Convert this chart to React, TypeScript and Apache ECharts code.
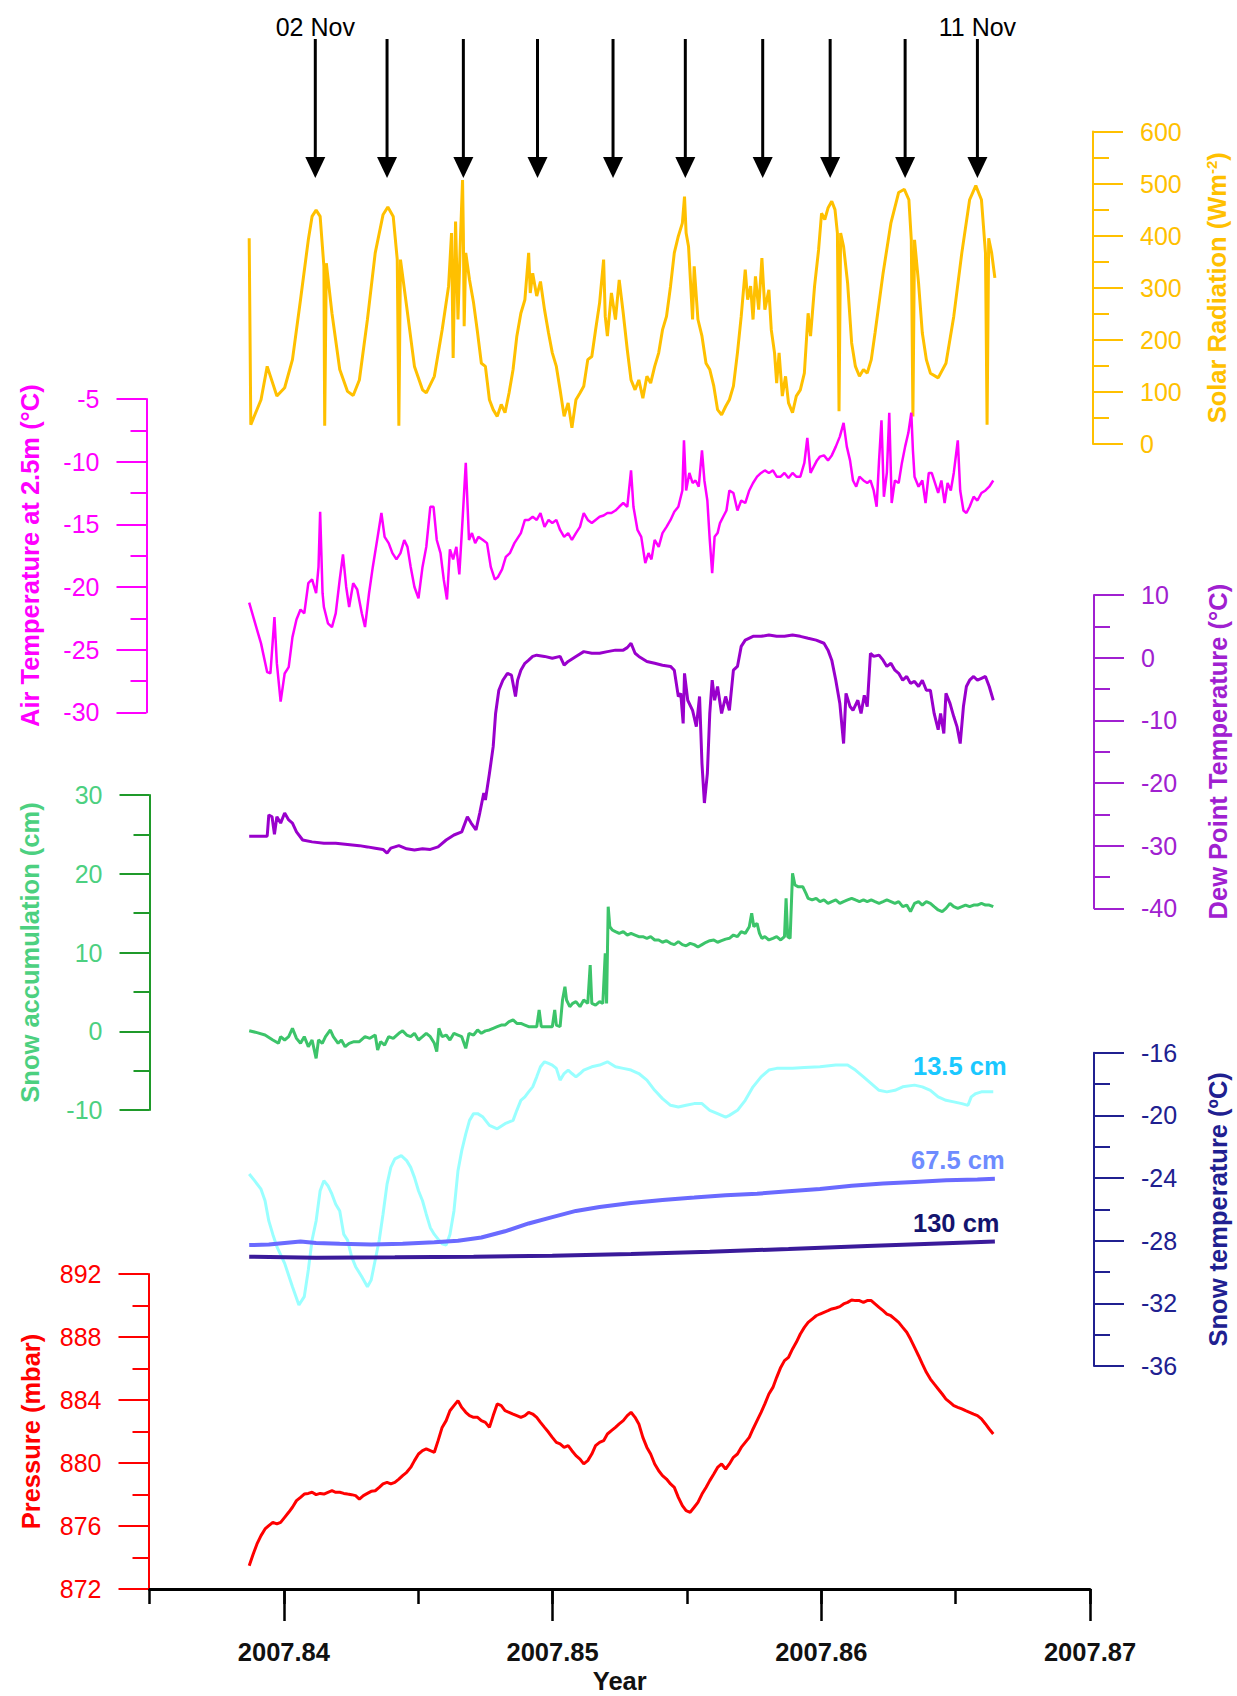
import React, { useEffect, useRef } from "react";
import * as echarts from "echarts";

const FONT = "'Liberation Sans', Arial, Helvetica, sans-serif";

// ---------- axis / tick data ----------
const X_MIN = 2007.835;
const X_MAX = 2007.87;
const xMajorTicks = [2007.84, 2007.85, 2007.86, 2007.87];

// solar-noon arrows
const arrowTimes = [2007.84117, 2007.84384, 2007.84668, 2007.84944, 2007.85225, 2007.85494, 2007.85782, 2007.86033, 2007.86312, 2007.86581];
const arrowLabels = ["02 Nov", "", "", "", "", "", "", "", "", "11 Nov"];

// ---------- series data: [year, value] ----------
const solarRadiation = [
  [2007.83871,395],[2007.83877,37],[2007.83915,85],[2007.83938,149],[2007.83974,92],[2007.84003,108],[2007.84032,162],[2007.84062,277],[2007.84091,392],[2007.84105,437],[2007.8412,449],[2007.84135,437],[2007.84149,341],[2007.84152,35],[2007.84158,347],[2007.84179,251],[2007.84208,143],[2007.84237,101],[2007.84258,93],[2007.84281,123],[2007.84311,239],[2007.8434,367],[2007.84369,440],[2007.84387,455],[2007.84407,437],[2007.84422,354],[2007.84428,35],[2007.84434,354],[2007.84457,264],[2007.84486,149],[2007.84516,104],[2007.8453,98],[2007.8456,130],[2007.84589,219],[2007.84613,303],[2007.84624,405],[2007.8463,165],[2007.84639,427],[2007.84648,239],[2007.84657,392],[2007.84665,507],[2007.84668,405],[2007.84671,226],[2007.84677,367],[2007.84691,315],[2007.84706,271],[2007.84721,213],[2007.84735,155],[2007.8475,149],[2007.84765,85],[2007.84779,66],[2007.84794,53],[2007.84809,76],[2007.84823,60],[2007.84838,98],[2007.84853,143],[2007.84867,207],[2007.84882,251],[2007.84897,277],[2007.84911,367],[2007.84917,290],[2007.84926,328],[2007.84941,284],[2007.84955,312],[2007.8497,258],[2007.84985,213],[2007.84999,175],[2007.85014,149],[2007.85028,104],[2007.85043,53],[2007.85058,79],[2007.85072,31],[2007.85087,85],[2007.85102,98],[2007.85116,111],[2007.85131,162],[2007.85146,168],[2007.8516,219],[2007.85175,271],[2007.8519,354],[2007.85196,245],[2007.85204,207],[2007.85219,290],[2007.85234,239],[2007.85248,315],[2007.85263,251],[2007.85278,181],[2007.85292,123],[2007.85307,104],[2007.85321,123],[2007.85336,88],[2007.85351,130],[2007.85365,117],[2007.8538,149],[2007.85395,175],[2007.85409,219],[2007.85424,245],[2007.85439,303],[2007.85453,367],[2007.85468,399],[2007.85483,424],[2007.85491,475],[2007.85497,405],[2007.85506,379],[2007.85515,296],[2007.85521,239],[2007.85527,341],[2007.85541,239],[2007.85556,207],[2007.85571,155],[2007.85585,143],[2007.856,111],[2007.85614,66],[2007.85629,56],[2007.85644,72],[2007.85658,85],[2007.85673,111],[2007.85688,175],[2007.85702,245],[2007.85717,335],[2007.85726,277],[2007.85737,303],[2007.85746,239],[2007.85755,322],[2007.85767,258],[2007.85779,357],[2007.8579,258],[2007.85805,296],[2007.85814,219],[2007.85826,175],[2007.85834,117],[2007.85843,175],[2007.85855,92],[2007.85867,130],[2007.85878,79],[2007.85893,60],[2007.85907,92],[2007.85922,104],[2007.85937,136],[2007.85951,251],[2007.8596,207],[2007.85975,303],[2007.8599,373],[2007.86001,443],[2007.86013,431],[2007.86025,453],[2007.86039,466],[2007.86051,450],[2007.8606,405],[2007.86066,63],[2007.86072,405],[2007.86083,379],[2007.86098,309],[2007.86113,194],[2007.86127,149],[2007.86142,130],[2007.86157,143],[2007.86171,136],[2007.86186,162],[2007.862,213],[2007.8623,328],[2007.86259,424],[2007.86288,483],[2007.86309,489],[2007.86326,469],[2007.86335,392],[2007.86341,53],[2007.86347,392],[2007.86362,309],[2007.86376,213],[2007.86391,162],[2007.86406,136],[2007.86435,127],[2007.86464,155],[2007.86493,245],[2007.86523,367],[2007.86552,469],[2007.86575,496],[2007.86596,469],[2007.86611,367],[2007.86617,37],[2007.86623,395],[2007.86634,367],[2007.86646,319],
];

const airTemperature = [
  [2007.83871,-21.25],[2007.839,-23.4],[2007.83915,-24.5],[2007.83938,-26.8],[2007.8395,-26.9],[2007.83965,-22.4],[2007.83974,-26.1],[2007.83988,-29.15],[2007.84003,-26.9],[2007.84018,-26.4],[2007.84032,-24.0],[2007.84047,-22.6],[2007.84062,-21.8],[2007.84076,-22.1],[2007.84091,-19.7],[2007.84105,-19.4],[2007.8412,-20.5],[2007.84129,-18.4],[2007.84135,-14.0],[2007.84144,-20.5],[2007.84149,-21.6],[2007.84164,-22.9],[2007.84179,-23.2],[2007.84193,-22.1],[2007.84208,-19.4],[2007.8422,-17.4],[2007.84232,-20.0],[2007.84243,-21.6],[2007.84258,-19.7],[2007.84273,-20.2],[2007.8429,-22.1],[2007.84302,-23.2],[2007.84317,-20.5],[2007.84331,-18.4],[2007.84349,-16.0],[2007.84363,-14.1],[2007.84375,-16.0],[2007.8439,-16.5],[2007.84404,-17.3],[2007.84419,-17.8],[2007.84434,-17.3],[2007.84448,-16.25],[2007.8446,-16.8],[2007.84472,-18.4],[2007.84486,-20.0],[2007.84501,-20.9],[2007.84516,-18.4],[2007.8453,-16.8],[2007.84545,-13.6],[2007.84557,-13.6],[2007.84569,-16.25],[2007.84583,-17.3],[2007.84595,-19.4],[2007.84607,-21.0],[2007.84618,-17.0],[2007.8463,-17.8],[2007.84642,-16.8],[2007.84653,-19.0],[2007.84665,-14.65],[2007.84677,-10.1],[2007.84689,-16.25],[2007.847,-15.7],[2007.84712,-16.5],[2007.84724,-16.0],[2007.84741,-16.25],[2007.84756,-16.5],[2007.8477,-18.4],[2007.84785,-19.4],[2007.84797,-19.2],[2007.84812,-18.6],[2007.84826,-17.6],[2007.84841,-17.3],[2007.84858,-16.5],[2007.84882,-15.7],[2007.84897,-14.65],[2007.84911,-14.65],[2007.84926,-14.4],[2007.84941,-14.65],[2007.84955,-14.1],[2007.8497,-15.2],[2007.84985,-14.65],[2007.84999,-14.9],[2007.85014,-14.65],[2007.85028,-15.45],[2007.85043,-16.0],[2007.85058,-15.7],[2007.85072,-16.25],[2007.85087,-15.7],[2007.85102,-15.2],[2007.85116,-14.1],[2007.85131,-14.65],[2007.85146,-14.9],[2007.8516,-14.65],[2007.85175,-14.4],[2007.8519,-14.3],[2007.85204,-14.1],[2007.85219,-14.1],[2007.85234,-13.9],[2007.85248,-13.6],[2007.85263,-13.3],[2007.85278,-13.6],[2007.85292,-10.7],[2007.85301,-13.6],[2007.85316,-15.45],[2007.8533,-16.0],[2007.85345,-18.1],[2007.85357,-17.3],[2007.85368,-17.8],[2007.8538,-16.25],[2007.85395,-16.8],[2007.85409,-15.7],[2007.85424,-15.2],[2007.85439,-14.65],[2007.85453,-14.0],[2007.85468,-13.6],[2007.85483,-12.3],[2007.85489,-8.3],[2007.85497,-12.3],[2007.85509,-10.9],[2007.85521,-11.7],[2007.85532,-11.5],[2007.85544,-12.0],[2007.85556,-9.1],[2007.85565,-11.5],[2007.85576,-13.1],[2007.85585,-16.25],[2007.85594,-18.9],[2007.85603,-16.0],[2007.85614,-15.7],[2007.85623,-14.9],[2007.85635,-14.4],[2007.85647,-13.9],[2007.85658,-12.3],[2007.85673,-12.5],[2007.85688,-13.9],[2007.85702,-13.1],[2007.85717,-13.3],[2007.85732,-12.3],[2007.85746,-11.7],[2007.85761,-11.2],[2007.85776,-10.9],[2007.8579,-10.7],[2007.85805,-10.9],[2007.8582,-10.7],[2007.85834,-11.2],[2007.85849,-11.2],[2007.85863,-10.9],[2007.85878,-11.3],[2007.85893,-10.9],[2007.85907,-11.2],[2007.85922,-11.2],[2007.85937,-10.1],[2007.85948,-8.1],[2007.8596,-10.9],[2007.85972,-10.4],[2007.85984,-9.9],[2007.85995,-9.6],[2007.8601,-9.5],[2007.86025,-9.9],[2007.86039,-9.5],[2007.86054,-8.8],[2007.86069,-8.0],[2007.86083,-6.9],[2007.86095,-8.8],[2007.86107,-9.9],[2007.86118,-11.5],[2007.8613,-12.0],[2007.86142,-11.2],[2007.86157,-11.5],[2007.86171,-11.7],[2007.86183,-11.5],[2007.86195,-12.3],[2007.86206,-13.6],[2007.86215,-9.9],[2007.86224,-6.7],[2007.86233,-12.8],[2007.86244,-10.9],[2007.86253,-6.1],[2007.86262,-13.3],[2007.86274,-11.5],[2007.86288,-11.7],[2007.863,-10.1],[2007.86312,-8.8],[2007.86324,-7.7],[2007.86335,-6.1],[2007.86341,-9.1],[2007.86347,-11.2],[2007.86362,-12.0],[2007.86376,-11.5],[2007.86388,-13.3],[2007.864,-10.9],[2007.86411,-10.9],[2007.86423,-11.7],[2007.86435,-12.5],[2007.86447,-11.5],[2007.86459,-13.3],[2007.8647,-11.7],[2007.86482,-12.3],[2007.86493,-10.9],[2007.86508,-8.3],[2007.86517,-12.3],[2007.86529,-13.9],[2007.8654,-14.1],[2007.86552,-13.6],[2007.86567,-12.8],[2007.86581,-13.1],[2007.86596,-12.5],[2007.86611,-12.3],[2007.86625,-12.0],[2007.8664,-11.5],
];

const dewPoint = [
  [2007.83871,-28.5],[2007.8393,-28.5],[2007.83938,-28.5],[2007.83944,-25.1],[2007.83956,-25.4],[2007.83965,-28.2],[2007.83974,-25.4],[2007.83988,-26.4],[2007.84003,-24.8],[2007.84018,-25.9],[2007.84032,-26.4],[2007.84047,-27.8],[2007.8407,-29.1],[2007.84105,-29.4],[2007.84149,-29.6],[2007.84193,-29.6],[2007.84237,-29.8],[2007.84281,-30.0],[2007.84311,-30.2],[2007.8434,-30.4],[2007.84369,-30.6],[2007.84384,-31.2],[2007.84398,-30.4],[2007.84428,-30.0],[2007.84457,-30.5],[2007.84486,-30.7],[2007.84516,-30.5],[2007.84545,-30.6],[2007.84574,-30.2],[2007.84604,-29.1],[2007.84633,-28.3],[2007.84662,-27.8],[2007.84683,-25.4],[2007.84697,-26.4],[2007.84715,-27.5],[2007.84729,-24.8],[2007.84744,-21.6],[2007.8475,-22.7],[2007.84765,-18.5],[2007.84779,-14.2],[2007.84788,-8.9],[2007.848,-5.2],[2007.84815,-3.6],[2007.84832,-2.5],[2007.84847,-2.8],[2007.84862,-6.2],[2007.8487,-3.6],[2007.84882,-2.0],[2007.84897,-0.9],[2007.84911,-0.4],[2007.84926,0.2],[2007.84941,0.4],[2007.8497,0.2],[2007.84999,-0.1],[2007.85028,0.2],[2007.85043,-1.2],[2007.85058,-0.6],[2007.85087,0.2],[2007.85116,0.96],[2007.85146,0.7],[2007.85175,0.7],[2007.85204,0.96],[2007.85234,1.2],[2007.85263,1.2],[2007.85278,1.6],[2007.85292,2.3],[2007.85307,0.7],[2007.85321,0.2],[2007.85351,-0.6],[2007.8538,-0.9],[2007.85409,-1.2],[2007.85439,-1.4],[2007.85453,-2.0],[2007.85468,-6.2],[2007.85477,-5.7],[2007.85486,-10.5],[2007.85491,-2.5],[2007.85503,-6.8],[2007.85521,-8.4],[2007.85535,-11.0],[2007.85547,-6.2],[2007.85556,-16.9],[2007.85565,-23.2],[2007.85576,-18.5],[2007.85585,-8.9],[2007.85594,-3.6],[2007.85603,-6.8],[2007.85614,-4.6],[2007.85629,-8.9],[2007.85644,-6.2],[2007.85658,-8.4],[2007.85673,-2.0],[2007.85688,-1.4],[2007.85702,1.8],[2007.85717,2.8],[2007.85746,3.4],[2007.85776,3.4],[2007.85805,3.6],[2007.85834,3.4],[2007.85863,3.4],[2007.85893,3.6],[2007.85922,3.4],[2007.85951,3.1],[2007.85981,2.8],[2007.8601,2.3],[2007.86025,1.2],[2007.86039,-0.4],[2007.86054,-3.6],[2007.86069,-7.3],[2007.86083,-13.7],[2007.86092,-5.7],[2007.86107,-7.8],[2007.86118,-8.4],[2007.86136,-6.8],[2007.86148,-8.9],[2007.8616,-6.0],[2007.86171,-7.8],[2007.86183,0.7],[2007.86195,0.2],[2007.86215,0.4],[2007.8623,-0.4],[2007.86244,-1.4],[2007.86259,-0.9],[2007.86274,-2.0],[2007.86288,-2.5],[2007.86303,-3.6],[2007.86318,-3.0],[2007.86332,-4.1],[2007.86347,-3.8],[2007.86362,-4.6],[2007.86376,-3.6],[2007.86391,-5.2],[2007.86406,-5.2],[2007.8642,-8.9],[2007.86435,-11.5],[2007.86444,-8.9],[2007.86456,-12.1],[2007.86464,-5.7],[2007.86479,-7.3],[2007.86493,-9.4],[2007.86505,-11.0],[2007.86517,-13.7],[2007.86529,-7.8],[2007.8654,-4.6],[2007.86552,-3.6],[2007.86567,-3.0],[2007.86581,-3.6],[2007.86596,-3.3],[2007.86611,-3.0],[2007.86625,-4.6],[2007.8664,-6.8],
];

const snowAccumulation = [
  [2007.83871,0.07],[2007.839,-0.18],[2007.8393,-0.48],[2007.83959,-1.11],[2007.8398,-1.53],[2007.83988,-0.69],[2007.84003,-1.11],[2007.84018,-0.69],[2007.84032,0.37],[2007.84047,-0.9],[2007.84062,-1.53],[2007.84076,-0.69],[2007.84091,-1.96],[2007.84105,-1.11],[2007.8412,-3.44],[2007.84129,-1.11],[2007.84143,-1.53],[2007.84155,-0.69],[2007.84173,0.16],[2007.84184,-0.69],[2007.84202,-1.53],[2007.84214,-1.11],[2007.84228,-1.96],[2007.84243,-1.53],[2007.84261,-1.32],[2007.84281,-1.32],[2007.84302,-0.69],[2007.8432,-0.9],[2007.8434,-0.48],[2007.84349,-2.38],[2007.8436,-1.32],[2007.84375,-1.75],[2007.8439,-0.69],[2007.84407,-0.9],[2007.84428,-0.26],[2007.84442,0.05],[2007.84457,-0.48],[2007.84472,-0.69],[2007.84486,-0.26],[2007.84501,-1.11],[2007.84516,-0.69],[2007.8453,-0.26],[2007.84545,-0.69],[2007.8456,-1.53],[2007.84569,-2.59],[2007.84577,0.37],[2007.84589,-0.69],[2007.84604,-0.48],[2007.84618,-1.11],[2007.84633,-0.26],[2007.84648,-0.48],[2007.84662,-0.69],[2007.84677,-2.17],[2007.84689,-0.26],[2007.84706,-0.48],[2007.84721,0.16],[2007.84735,-0.26],[2007.8475,0.05],[2007.84765,0.16],[2007.84779,0.37],[2007.84794,0.58],[2007.84809,0.79],[2007.84823,0.79],[2007.84838,1.22],[2007.84853,1.43],[2007.84867,1.0],[2007.84882,1.0],[2007.84897,0.79],[2007.84911,0.58],[2007.84941,0.58],[2007.8495,2.7],[2007.84958,0.58],[2007.84985,0.58],[2007.84999,0.58],[2007.85008,2.7],[2007.85014,0.79],[2007.85028,0.58],[2007.85037,3.97],[2007.85046,5.66],[2007.85052,3.97],[2007.85064,3.12],[2007.85075,3.54],[2007.85087,3.76],[2007.85102,3.12],[2007.85116,3.97],[2007.85131,3.54],[2007.8514,8.41],[2007.85146,3.54],[2007.8516,3.33],[2007.85175,3.76],[2007.85187,3.54],[2007.85196,9.89],[2007.85201,3.54],[2007.85207,15.82],[2007.85213,13.28],[2007.85222,12.86],[2007.85234,12.65],[2007.85248,12.43],[2007.85263,12.65],[2007.85278,12.22],[2007.85292,12.43],[2007.85307,12.22],[2007.85321,12.01],[2007.85336,12.01],[2007.85351,11.8],[2007.85365,12.01],[2007.8538,11.59],[2007.85395,11.59],[2007.85409,11.3],[2007.85424,11.5],[2007.85439,11.16],[2007.85453,11.0],[2007.85468,11.38],[2007.85483,11.0],[2007.85497,10.85],[2007.85512,11.16],[2007.85527,11.0],[2007.85541,10.7],[2007.85556,11.0],[2007.85571,11.3],[2007.85585,11.5],[2007.856,11.59],[2007.85614,11.3],[2007.85629,11.5],[2007.85644,11.7],[2007.85658,11.8],[2007.85673,12.22],[2007.85688,12.01],[2007.85702,12.65],[2007.85717,12.43],[2007.85732,13.28],[2007.85741,14.97],[2007.85749,13.28],[2007.85761,13.7],[2007.8577,12.43],[2007.85779,11.8],[2007.8579,12.01],[2007.85805,11.59],[2007.8582,11.8],[2007.85834,12.01],[2007.85849,11.59],[2007.85863,12.01],[2007.85869,16.88],[2007.85875,12.01],[2007.85884,11.8],[2007.85893,20.05],[2007.85902,18.57],[2007.85913,18.36],[2007.85931,18.36],[2007.85943,17.51],[2007.85951,16.88],[2007.85966,16.67],[2007.85981,16.88],[2007.85995,16.46],[2007.8601,16.67],[2007.86025,16.24],[2007.86039,16.46],[2007.86054,16.67],[2007.86069,16.24],[2007.86083,16.46],[2007.86098,16.67],[2007.86113,16.88],[2007.86127,16.67],[2007.86142,16.46],[2007.86157,16.67],[2007.86171,16.46],[2007.86186,16.67],[2007.862,16.46],[2007.86215,16.24],[2007.8623,16.46],[2007.86244,16.67],[2007.86259,16.46],[2007.86274,16.24],[2007.86288,16.46],[2007.86303,15.82],[2007.86318,16.03],[2007.86332,15.19],[2007.86347,16.24],[2007.86362,16.46],[2007.86376,16.03],[2007.86391,16.46],[2007.86406,16.24],[2007.8642,15.82],[2007.86435,15.4],[2007.8645,15.19],[2007.86464,15.61],[2007.86479,16.24],[2007.86493,15.82],[2007.86508,15.61],[2007.86523,15.82],[2007.86537,16.03],[2007.86552,15.82],[2007.86567,16.03],[2007.86581,16.03],[2007.86596,16.24],[2007.86611,16.03],[2007.86625,16.03],[2007.8664,15.82],
];

const snowTemp13 = [
  [2007.83871,-23.74],[2007.83891,-24.17],[2007.83915,-24.71],[2007.8393,-25.45],[2007.83944,-26.74],[2007.83959,-27.6],[2007.83974,-28.38],[2007.84003,-29.45],[2007.84032,-30.94],[2007.84056,-32.11],[2007.84076,-31.57],[2007.84091,-29.87],[2007.84105,-27.96],[2007.8412,-26.74],[2007.84135,-24.81],[2007.84149,-24.17],[2007.84164,-24.49],[2007.84179,-25.03],[2007.84193,-25.67],[2007.84208,-26.1],[2007.84223,-27.6],[2007.84237,-27.96],[2007.84252,-29.02],[2007.84267,-29.66],[2007.8429,-30.3],[2007.84311,-30.94],[2007.84325,-30.51],[2007.8434,-29.23],[2007.84355,-27.96],[2007.84369,-26.31],[2007.84384,-24.39],[2007.84398,-23.32],[2007.84413,-22.78],[2007.84437,-22.57],[2007.84457,-22.89],[2007.84472,-23.32],[2007.84486,-23.96],[2007.84501,-24.81],[2007.84516,-25.45],[2007.8453,-26.31],[2007.84545,-27.17],[2007.8456,-27.6],[2007.84574,-27.9],[2007.84589,-28.2],[2007.84604,-28.28],[2007.84618,-27.6],[2007.84633,-26.1],[2007.84648,-23.53],[2007.84662,-22.25],[2007.84677,-21.18],[2007.84691,-20.32],[2007.84706,-19.89],[2007.84721,-19.89],[2007.84741,-20.11],[2007.84765,-20.64],[2007.84794,-20.86],[2007.84823,-20.53],[2007.84853,-20.32],[2007.84867,-19.68],[2007.84882,-19.04],[2007.84897,-18.82],[2007.84911,-18.5],[2007.84926,-18.18],[2007.84941,-17.54],[2007.84955,-16.9],[2007.8497,-16.58],[2007.84985,-16.68],[2007.84999,-16.79],[2007.85014,-17.0],[2007.85028,-17.75],[2007.85043,-17.33],[2007.85058,-17.11],[2007.85072,-17.33],[2007.85087,-17.54],[2007.85102,-17.33],[2007.85116,-17.11],[2007.85146,-16.9],[2007.85175,-16.79],[2007.85204,-16.58],[2007.85234,-16.9],[2007.85263,-17.0],[2007.85292,-17.11],[2007.85321,-17.33],[2007.85351,-17.75],[2007.8538,-18.4],[2007.85409,-18.93],[2007.85439,-19.36],[2007.85468,-19.47],[2007.85497,-19.36],[2007.85527,-19.25],[2007.85556,-19.25],[2007.85585,-19.68],[2007.85614,-19.89],[2007.85644,-20.11],[2007.85658,-20.0],[2007.85688,-19.68],[2007.85717,-19.04],[2007.85746,-18.18],[2007.85776,-17.54],[2007.85805,-17.11],[2007.85834,-17.0],[2007.85863,-17.0],[2007.85893,-17.0],[2007.85937,-16.94],[2007.85995,-16.9],[2007.86054,-16.79],[2007.86098,-16.79],[2007.86127,-17.11],[2007.86157,-17.54],[2007.86186,-17.97],[2007.86215,-18.4],[2007.86244,-18.5],[2007.86274,-18.4],[2007.86303,-18.18],[2007.86347,-18.07],[2007.86376,-18.18],[2007.86406,-18.4],[2007.86435,-18.82],[2007.86464,-19.04],[2007.86493,-19.14],[2007.86523,-19.25],[2007.86546,-19.36],[2007.86558,-18.82],[2007.86575,-18.61],[2007.86596,-18.5],[2007.8664,-18.5],
];

const snowTemp67 = [
  [2007.83871,-28.28],[2007.83944,-28.25],[2007.84003,-28.15],[2007.84062,-28.05],[2007.8412,-28.15],[2007.84208,-28.2],[2007.84325,-28.25],[2007.84442,-28.2],[2007.8456,-28.1],[2007.84648,-28.0],[2007.84735,-27.8],[2007.84823,-27.4],[2007.84911,-26.9],[2007.84999,-26.5],[2007.85087,-26.1],[2007.85175,-25.85],[2007.85292,-25.6],[2007.85409,-25.4],[2007.85527,-25.25],[2007.85644,-25.1],[2007.85761,-25.0],[2007.85878,-24.85],[2007.85995,-24.7],[2007.86113,-24.5],[2007.8623,-24.35],[2007.86347,-24.25],[2007.86464,-24.15],[2007.86581,-24.1],[2007.86646,-24.05],
];

const snowTemp130 = [
  [2007.83871,-29.02],[2007.8412,-29.09],[2007.84413,-29.06],[2007.84706,-29.02],[2007.84999,-28.96],[2007.85292,-28.85],[2007.85585,-28.7],[2007.85878,-28.53],[2007.86171,-28.34],[2007.86464,-28.17],[2007.86646,-28.06],
];

const pressure = [
  [2007.83871,873.48],[2007.83886,874.22],[2007.839,874.86],[2007.83915,875.39],[2007.8393,875.81],[2007.83944,876.02],[2007.83959,876.23],[2007.83974,876.13],[2007.83988,876.23],[2007.84003,876.55],[2007.84018,876.87],[2007.84032,877.19],[2007.84047,877.61],[2007.84062,877.82],[2007.84076,878.03],[2007.84091,878.07],[2007.84105,878.14],[2007.8412,877.99],[2007.84135,878.07],[2007.84149,878.03],[2007.84164,878.14],[2007.84179,878.24],[2007.84193,878.14],[2007.84208,878.14],[2007.84223,878.07],[2007.84237,878.03],[2007.84252,877.99],[2007.84267,877.93],[2007.84281,877.71],[2007.84296,877.93],[2007.84311,878.07],[2007.84325,878.2],[2007.8434,878.24],[2007.84355,878.45],[2007.84369,878.67],[2007.84384,878.77],[2007.84398,878.67],[2007.84413,878.77],[2007.84428,878.98],[2007.84442,879.2],[2007.84457,879.41],[2007.84472,879.72],[2007.84486,880.15],[2007.84501,880.57],[2007.84516,880.78],[2007.8453,880.89],[2007.84545,880.78],[2007.8456,880.68],[2007.84574,881.42],[2007.84589,882.26],[2007.84604,882.69],[2007.84618,883.32],[2007.84633,883.64],[2007.84648,883.96],[2007.84662,883.53],[2007.84677,883.22],[2007.84691,883.01],[2007.84706,882.9],[2007.84721,882.9],[2007.84735,882.69],[2007.8475,882.58],[2007.84765,882.26],[2007.84779,883.01],[2007.84794,883.75],[2007.84809,883.64],[2007.84823,883.32],[2007.84838,883.22],[2007.84853,883.11],[2007.84867,883.01],[2007.84882,882.9],[2007.84897,883.01],[2007.84911,883.22],[2007.84926,883.11],[2007.84941,882.9],[2007.84955,882.58],[2007.8497,882.26],[2007.84985,881.95],[2007.84999,881.63],[2007.85014,881.31],[2007.85028,881.21],[2007.85043,880.99],[2007.85058,881.1],[2007.85072,880.78],[2007.85087,880.47],[2007.85102,880.25],[2007.85116,879.94],[2007.85131,880.15],[2007.85146,880.57],[2007.8516,881.1],[2007.85175,881.31],[2007.8519,881.42],[2007.85204,881.84],[2007.85219,882.05],[2007.85234,882.26],[2007.85248,882.48],[2007.85263,882.69],[2007.85278,883.01],[2007.85292,883.22],[2007.85307,882.9],[2007.85321,882.48],[2007.85336,881.63],[2007.85351,880.99],[2007.85365,880.57],[2007.8538,879.94],[2007.85395,879.51],[2007.85409,879.2],[2007.85424,878.98],[2007.85439,878.67],[2007.85453,878.45],[2007.85468,877.82],[2007.85483,877.29],[2007.85497,876.97],[2007.85512,876.87],[2007.85527,877.19],[2007.85541,877.5],[2007.85556,878.03],[2007.85571,878.45],[2007.85585,878.88],[2007.856,879.3],[2007.85614,879.72],[2007.85629,879.94],[2007.85644,879.62],[2007.85658,879.94],[2007.85673,880.36],[2007.85688,880.57],[2007.85702,880.99],[2007.85717,881.31],[2007.85732,881.63],[2007.85746,882.16],[2007.85761,882.69],[2007.85776,883.22],[2007.8579,883.75],[2007.85805,884.38],[2007.8582,884.8],[2007.85834,885.44],[2007.85849,886.07],[2007.85863,886.5],[2007.85878,886.71],[2007.85893,887.24],[2007.85907,887.66],[2007.85922,888.19],[2007.85937,888.61],[2007.85951,888.93],[2007.85966,889.14],[2007.85981,889.35],[2007.85995,889.46],[2007.8601,889.57],[2007.86025,889.67],[2007.86039,889.78],[2007.86054,889.84],[2007.86069,889.93],[2007.86083,890.1],[2007.86098,890.2],[2007.86113,890.35],[2007.86127,890.31],[2007.86142,890.31],[2007.86157,890.2],[2007.86171,890.31],[2007.86186,890.31],[2007.862,890.1],[2007.86215,889.88],[2007.8623,889.67],[2007.86244,889.46],[2007.86259,889.35],[2007.86274,889.14],[2007.86288,888.93],[2007.86303,888.61],[2007.86318,888.3],[2007.86332,887.87],[2007.86347,887.34],[2007.86362,886.81],[2007.86376,886.29],[2007.86391,885.76],[2007.86406,885.33],[2007.8642,885.02],[2007.86435,884.7],[2007.8645,884.38],[2007.86464,884.06],[2007.86479,883.85],[2007.86493,883.64],[2007.86508,883.53],[2007.86523,883.43],[2007.86537,883.32],[2007.86552,883.22],[2007.86567,883.11],[2007.86581,883.01],[2007.86596,882.8],[2007.86611,882.48],[2007.86625,882.16],[2007.8664,881.84],
];

// ---------- styling ----------
const C_SOLAR = "#FFC000";
const C_AIR = "#FF00FF";
const C_DEW = "#9900CC";
const C_DEW_AX = "#A020D0";
const C_SNOW_LINE = "#3CC46A";
const C_SNOW_LABEL = "#4CD080";
const C_SNOW_AX = "#1F9A2A";
const C_ST_AX = "#202090";
const C_13 = "#99FFFF";
const C_67 = "#6A6AFF";
const C_130 = "#3A1A9A";
const C_PRESS = "#FF0000";

const GRID_LEFT = 149.5;
const GRID_WIDTH = 940.5;
const panels = [
  { top: 131.5, height: 312.5 }, // solar
  { top: 399, height: 313.3 }, // air temp
  { top: 595, height: 313.3 }, // dew point
  { top: 795, height: 315 }, // snow accumulation
  { top: 1052.7, height: 313.3 }, // snow temperature
  { top: 1274, height: 315 }, // pressure
];

function yAxisDef(o: any) {
  const { gridIndex, side, offset, min, max, interval, color, labelColor, axisColor, name, nameGap, rich } = o;
  return {
    type: "value",
    gridIndex,
    position: side,
    offset,
    min,
    max,
    interval,
    axisLine: { show: true, lineStyle: { color: axisColor || color, width: 2 } },
    axisTick: { show: true, inside: false, length: 30, lineStyle: { color: axisColor || color, width: 2 } },
    minorTick: { show: true, splitNumber: 2, length: 16, lineStyle: { color: axisColor || color, width: 2 } },
    splitLine: { show: false },
    minorSplitLine: { show: false },
    axisLabel: { color: labelColor || color, fontSize: 25, fontFamily: FONT, margin: 47 },
    name,
    nameLocation: "middle",
    nameRotate: 90,
    nameGap,
    nameMoveOverlap: false,
    nameTextStyle: {
      color: labelColor || color,
      fontWeight: "bold",
      fontSize: 25.5,
      fontFamily: FONT,
      rich,
    },
  };
}

function lineSeries(data: number[][], idx: number, color: string, width: number, xIdx?: number) {
  return {
    type: "line",
    data,
    xAxisIndex: xIdx === undefined ? idx : xIdx,
    yAxisIndex: idx,
    showSymbol: false,
    symbol: "none",
    lineStyle: { color, width },
    itemStyle: { color },
    emphasis: { disabled: true },
    silent: true,
    z: 3,
  };
}

export default function App() {
  const ref = useRef<HTMLDivElement>(null);

  useEffect(() => {
    document.body.style.margin = "0";
    if (!ref.current) return;
    const chart = echarts.init(ref.current, undefined, { renderer: "svg" });

    const grids = panels.map((p) => ({
      left: GRID_LEFT,
      width: GRID_WIDTH,
      top: p.top,
      height: p.height,
      containLabel: false,
      outerBoundsMode: "none",
    }));

    const hiddenX = panels.slice(0, 5).map((_, i) => ({
      type: "value",
      gridIndex: i,
      min: X_MIN,
      max: X_MAX,
      show: false,
    }));

    const xAxes = [
      ...hiddenX,
      {
        type: "value",
        gridIndex: 5,
        min: X_MIN,
        max: X_MAX,
        interval: 0.005,
        position: "bottom",
        axisLine: { show: true, lineStyle: { color: "#000", width: 3 } },
        axisTick: { show: true, length: 15, lineStyle: { color: "#000", width: 2.5 } },
        axisLabel: { show: false },
        splitLine: { show: false },
      },
      {
        type: "value",
        gridIndex: 5,
        min: X_MIN,
        max: X_MAX,
        position: "bottom",
        axisLine: { show: false },
        axisTick: { show: true, length: 32, customValues: xMajorTicks, lineStyle: { color: "#000", width: 2.5 } },
        axisLabel: {
          show: true,
          customValues: xMajorTicks,
          formatter: (v: number) => v.toFixed(2),
          color: "#111",
          fontWeight: "bold",
          fontSize: 25.5,
          fontFamily: FONT,
          margin: 50,
        },
        splitLine: { show: false },
        name: "Year",
        nameLocation: "middle",
        nameGap: 79,
        nameMoveOverlap: false,
        nameTextStyle: { color: "#111", fontWeight: "bold", fontSize: 25.5, fontFamily: FONT },
      },
    ];

    const yAxes = [
      yAxisDef({
        gridIndex: 0, side: "right", offset: 3, min: 0, max: 600, interval: 100, color: C_SOLAR,
        name: "Solar Radiation (Wm{sup|-2})", nameGap: 111,
        rich: { sup: { fontSize: 15, fontWeight: "bold", color: C_SOLAR, fontFamily: FONT, verticalAlign: "top" } },
      }),
      yAxisDef({
        gridIndex: 1, side: "left", offset: 3, min: -30, max: -5, interval: 5, color: C_AIR,
        name: "Air Temperature at 2.5m (°C)", nameGap: 104,
      }),
      yAxisDef({
        gridIndex: 2, side: "right", offset: 4, min: -40, max: 10, interval: 10, color: C_DEW_AX,
        name: "Dew Point Temperature (°C)", nameGap: 111,
      }),
      yAxisDef({
        gridIndex: 3, side: "left", offset: 0, min: -10, max: 30, interval: 10, color: C_SNOW_LABEL, axisColor: C_SNOW_AX,
        labelColor: C_SNOW_LABEL, name: "Snow accumulation (cm)", nameGap: 107,
      }),
      yAxisDef({
        gridIndex: 4, side: "right", offset: 4, min: -36, max: -16, interval: 4, color: C_ST_AX,
        name: "Snow temperature (ºC)", nameGap: 111,
      }),
      yAxisDef({
        gridIndex: 5, side: "left", offset: 1, min: 872, max: 892, interval: 4, color: C_PRESS,
        name: "Pressure (mbar)", nameGap: 105,
      }),
    ];

    const arrowSeries = {
      type: "custom",
      xAxisIndex: 0,
      yAxisIndex: 0,
      clip: false,
      silent: true,
      z: 10,
      data: arrowTimes.map((t) => [t, 0]),
      encode: { x: 0, y: 1 },
      renderItem: (params: any, api: any) => {
        const x = api.coord([api.value(0), 0])[0];
        const label = arrowLabels[params.dataIndex];
        const children: any[] = [
          { type: "line", shape: { x1: x, y1: 39, x2: x, y2: 160 }, style: { stroke: "#000", lineWidth: 3 } },
          { type: "polygon", shape: { points: [[x - 10, 157], [x + 10, 157], [x, 178]] }, style: { fill: "#000" } },
        ];
        if (label) {
          children.push({
            type: "text",
            x,
            y: 27,
            style: {
              text: label,
              fill: "#000",
              font: `25px ${FONT}`,
              align: "center",
              verticalAlign: "middle",
              textAlign: "center",
              textVerticalAlign: "middle",
            },
          });
        }
        return { type: "group", children };
      },
    };

    const option: any = {
      animation: false,
      backgroundColor: "#fff",
      grid: grids,
      xAxis: xAxes,
      yAxis: yAxes,
      graphic: [
        { type: "text", left: 913, top: 1053, style: { text: "13.5 cm", fill: "#1AC8FF", font: `bold 25.5px ${FONT}` } },
        { type: "text", left: 911, top: 1147, style: { text: "67.5 cm", fill: "#6E8CFF", font: `bold 25.5px ${FONT}` } },
        { type: "text", left: 913, top: 1210, style: { text: "130 cm", fill: "#14146E", font: `bold 25.5px ${FONT}` } },
      ],
      series: [
        lineSeries(solarRadiation, 0, C_SOLAR, 3),
        lineSeries(airTemperature, 1, C_AIR, 2.5),
        lineSeries(dewPoint, 2, C_DEW, 3),
        lineSeries(snowAccumulation, 3, C_SNOW_LINE, 3),
        lineSeries(snowTemp13, 4, C_13, 3),
        lineSeries(snowTemp67, 4, C_67, 4),
        lineSeries(snowTemp130, 4, C_130, 4),
        lineSeries(pressure, 5, C_PRESS, 3, 5),
        arrowSeries,
      ],
    };

    chart.setOption(option);
    return () => chart.dispose();
  }, []);

  return <div ref={ref} style={{ width: 1237, height: 1696 }} />;
}
